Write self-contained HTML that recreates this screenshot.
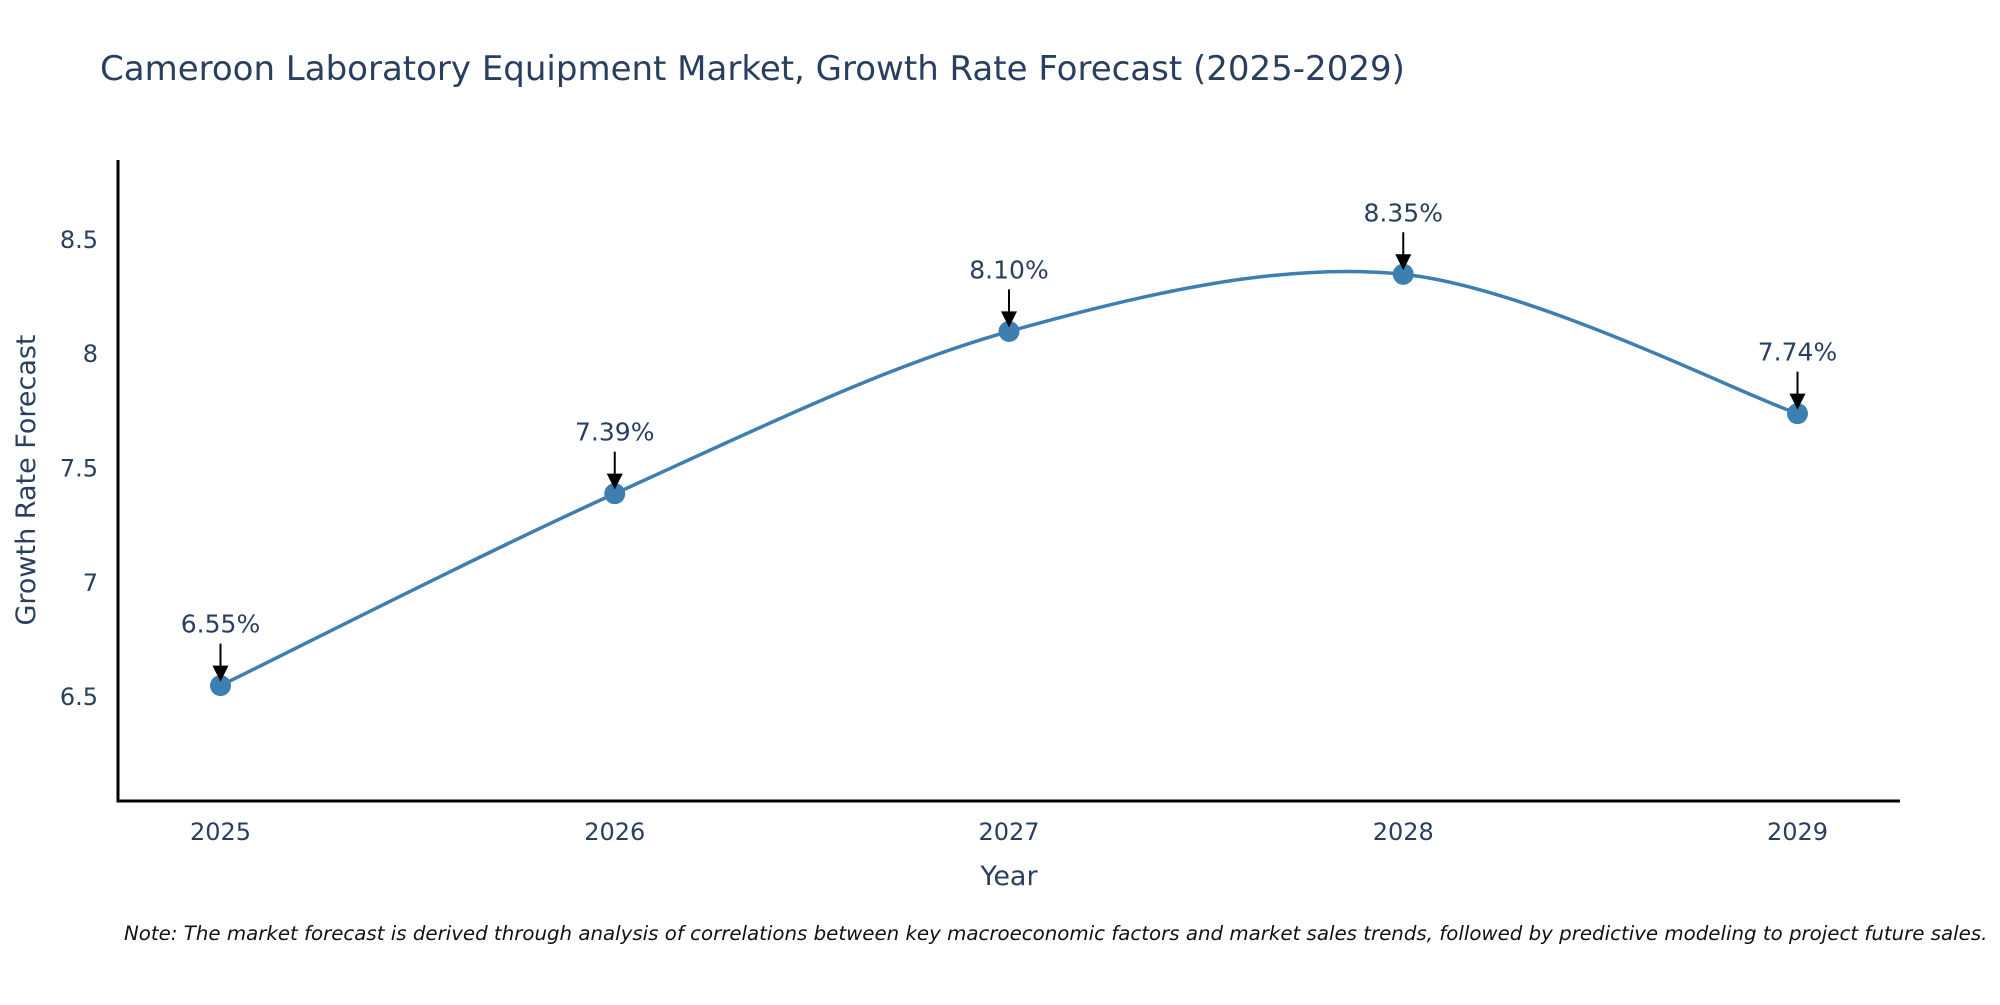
<!DOCTYPE html>
<html><head><meta charset="utf-8"><style>
body{margin:0;background:#fff;}
svg text{font-family:"DejaVu Sans","Liberation Sans",sans-serif;}
</style></head><body>
<svg id="chart" width="2000" height="1000" xmlns="http://www.w3.org/2000/svg">
<rect width="2000" height="1000" fill="#fff"/>
<text x="100" y="80" font-size="34" fill="#2a3f5f">Cameroon Laboratory Equipment Market, Growth Rate Forecast (2025-2029)</text>
<g id="plot"></g>
<text x="1009" y="885" font-size="27" fill="#2a3f5f" text-anchor="middle">Year</text>
<text transform="translate(35,480) rotate(-90)" font-size="27" fill="#2a3f5f" text-anchor="middle">Growth Rate Forecast</text>
<text x="124" y="940" font-size="19.8" font-style="italic" fill="#111">Note: The market forecast is derived through analysis of correlations between key macroeconomic factors and market sales trends, followed by predictive modeling to project future sales.</text>
</svg>
<script>
const years = [2025, 2026, 2027, 2028, 2029];
const growth = [6.55, 7.39, 8.10, 8.35, 7.74];
const labels = ["6.55%", "7.39%", "8.10%", "8.35%", "7.74%"];
const yTicks = [6.5, 7, 7.5, 8, 8.5];
const yTickLabels = ["6.5", "7", "7.5", "8", "8.5"];

const L=118,R=1900,T=160,B=801;
const xMin=2024.74,xMax=2029.26,yMin=6.045,yMax=8.85;
const xs=v=>L+(v-xMin)/(xMax-xMin)*(R-L);
const ys=v=>B-(v-yMin)/(yMax-yMin)*(B-T);
const NS="http://www.w3.org/2000/svg";
const g=document.getElementById('plot');
function mk(t,a,p){const e=document.createElementNS(NS,t);for(const k in a)e.setAttribute(k,a[k]);(p||g).appendChild(e);return e;}

yTicks.forEach((v,i)=>{
  const t=mk('text',{x:L-20,y:ys(v)+8,'font-size':24,fill:'#2a3f5f','text-anchor':'end'});
  t.textContent=yTickLabels[i];
  
  
});
years.forEach(v=>{
  const t=mk('text',{x:xs(v),y:B+39,'font-size':24,fill:'#2a3f5f','text-anchor':'middle'});
  t.textContent=String(v);
  
  
});
const ya=mk('line',{x1:L,y1:T,x2:L,y2:B+1.5,stroke:'#000','stroke-width':3});


const xa=mk('line',{x1:L-1.5,y1:B,x2:R,y2:B,stroke:'#000','stroke-width':3});



const pts=years.map((y,i)=>[xs(y),ys(growth[i])]);
let d=`M${pts[0][0]},${pts[0][1]}`;
const s=0.16;
for(let i=0;i<pts.length-1;i++){
  const p0=pts[Math.max(0,i-1)],p1=pts[i],p2=pts[i+1],p3=pts[Math.min(pts.length-1,i+2)];
  const c1=[p1[0]+(p2[0]-p0[0])*s,p1[1]+(p2[1]-p0[1])*s];
  const c2=[p2[0]-(p3[0]-p1[0])*s,p2[1]-(p3[1]-p1[1])*s];
  d+=` C${c1[0]},${c1[1]} ${c2[0]},${c2[1]} ${p2[0]},${p2[1]}`;
}
const line=mk('path',{d:d,fill:'none',stroke:'#3d7fb0','stroke-width':3.5});



pts.forEach((p,i)=>{
  const c=mk('circle',{cx:p[0],cy:p[1],r:10.5,fill:'#3d7fb0'});
  
  
  const a=mk('line',{x1:p[0],y1:p[1]-42,x2:p[0],y2:p[1]-16,stroke:'#000','stroke-width':2});
  
  
  const h=mk('polygon',{points:`${p[0]-8},${p[1]-20} ${p[0]+8},${p[1]-20} ${p[0]},${p[1]-4}`,fill:'#000'});
  
  
  const t=mk('text',{x:p[0],y:p[1]-53,'font-size':25,fill:'#2a3f5f','text-anchor':'middle'});
  t.textContent=labels[i];
  
  
});
</script>
</body></html>
